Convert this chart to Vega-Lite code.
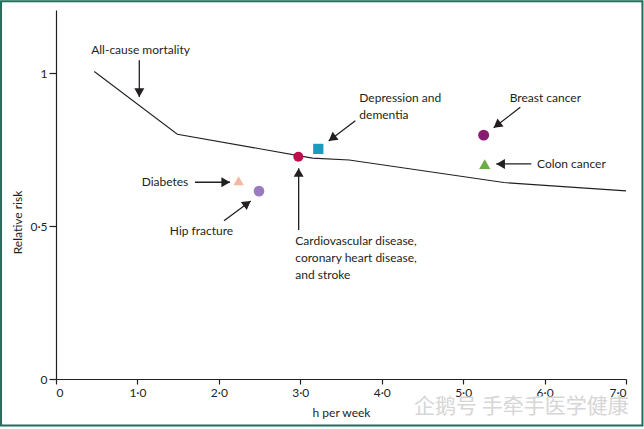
{
  "$schema": "https://vega.github.io/schema/vega-lite/v6.json",
  "width": 570,
  "height": 369,
  "autosize": "none",
  "padding": {"left": 56, "top": 10, "right": 18, "bottom": 50},
  "background": "white",
  "config": {
    "view": {"stroke": null},
    "font": "Lato",
    "axis": {
      "grid": false,
      "domainColor": "#231f20",
      "domainWidth": 1.2,
      "tickColor": "#231f20",
      "tickWidth": 1.2,
      "labelColor": "#231f20",
      "labelFont": "Lato",
      "labelFontSize": 12,
      "titleFont": "Lato",
      "titleFontSize": 12,
      "titleFontWeight": "normal",
      "titleColor": "#231f20"
    },
    "text": {"font": "Lato", "fontSize": 12, "color": "#231f20"}
  },
  "datasets": {
    "curve": [
      {"h": 0.47, "rr": 1.005},
      {"h": 1.49, "rr": 0.8},
      {"h": 3.15, "rr": 0.722},
      {"h": 3.6, "rr": 0.716},
      {"h": 5.5, "rr": 0.642},
      {"h": 7.0, "rr": 0.615}
    ],
    "arrows": [
      {"label": "All-cause mortality", "x": 1.023, "y": 1.042, "x2": 1.023, "y2": 0.922},
      {"label": "Diabetes", "x": 1.707, "y": 0.643, "x2": 2.137, "y2": 0.643},
      {"label": "Hip fracture", "x": 2.063, "y": 0.517, "x2": 2.391, "y2": 0.582},
      {"label": "Cardiovascular", "x": 2.98, "y": 0.487, "x2": 2.98, "y2": 0.689},
      {"label": "Depression", "x": 3.676, "y": 0.844, "x2": 3.349, "y2": 0.778},
      {"label": "Breast cancer", "x": 5.702, "y": 0.888, "x2": 5.375, "y2": 0.821},
      {"label": "Colon cancer", "x": 5.837, "y": 0.703, "x2": 5.407, "y2": 0.703}
    ],
    "markers": [
      {"outcome": "Cardiovascular disease, coronary heart disease, and stroke", "h": 2.976, "rr": 0.7265},
      {"outcome": "Depression and dementia", "h": 3.221, "rr": 0.752},
      {"outcome": "Diabetes", "h": 2.243, "rr": 0.648},
      {"outcome": "Hip fracture", "h": 2.493, "rr": 0.614},
      {"outcome": "Breast cancer", "h": 5.252, "rr": 0.797},
      {"outcome": "Colon cancer", "h": 5.265, "rr": 0.702}
    ],
    "labelsLeft": [
      {"text": "Cardiovascular disease,\ncoronary heart disease,\nand stroke", "x": 2.939, "y": 0.452},
      {"text": "Depression and\ndementia", "x": 3.725, "y": 0.919},
      {"text": "Breast cancer", "x": 5.572, "y": 0.919},
      {"text": "Colon cancer", "x": 5.907, "y": 0.703}
    ],
    "labelsCenter": [
      {"text": "All-cause mortality", "x": 1.038, "y": 1.075},
      {"text": "Hip fracture", "x": 1.787, "y": 0.483}
    ],
    "labelsRight": [
      {"text": "Diabetes", "x": 1.625, "y": 0.644}
    ]
  },
  "layer": [
    {
      "data": {"name": "curve"},
      "mark": {"type": "line", "color": "#231f20", "strokeWidth": 1.1},
      "encoding": {
        "x": {
          "field": "h", "type": "quantitative",
          "scale": {"domain": [0, 7], "nice": false, "zero": false},
          "axis": {
            "values": [0, 1, 2, 3, 4, 5, 6, 7],
            "labelExpr": "datum.value === 0 ? '0' : replace(format(datum.value, '.1f'), '.', '·')",
            "tickSize": 5,
            "labelPadding": 3,
            "title": "h per week",
            "titleY": 33,
            "titleBaseline": "middle"
          }
        },
        "y": {
          "field": "rr", "type": "quantitative",
          "scale": {"domain": [0, 1.206], "nice": false, "zero": false},
          "axis": {
            "values": [0, 0.5, 1],
            "labelExpr": "replace(format(datum.value, '~g'), '.', '·')",
            "tickSize": 7,
            "labelPadding": 2,
            "title": "Relative risk",
            "titleX": -39,
            "titleY": 212,
            "titleAngle": -90,
            "titleAlign": "center",
            "titleBaseline": "middle"
          }
        }
      }
    },
    {
      "data": {"values": [{}]},
      "mark": {"type": "rect", "fill": null, "stroke": "#1e6e5a", "strokeWidth": 2},
      "encoding": {
        "x": {"datum": -0.675, "type": "quantitative", "scale": {"domain": [0, 7], "nice": false, "zero": false}},
        "x2": {"datum": 7.202},
        "y": {"datum": 1.235, "type": "quantitative", "scale": {"domain": [0, 1.206], "nice": false, "zero": false}},
        "y2": {"datum": -0.152}
      }
    },
    {
      "data": {"name": "arrows"},
      "mark": {"type": "rule", "color": "#231f20", "strokeWidth": 1.3},
      "encoding": {
        "x": {"field": "x", "type": "quantitative", "scale": {"domain": [0, 7], "nice": false, "zero": false}},
        "y": {"field": "y", "type": "quantitative", "scale": {"domain": [0, 1.206], "nice": false, "zero": false}},
        "x2": {"field": "x2"},
        "y2": {"field": "y2"}
      }
    },
    {
      "data": {"name": "arrows"},
      "transform": [
        {"calculate": "(datum.x2 - datum.x) * 570 / 7", "as": "dxp"},
        {"calculate": "(datum.y2 - datum.y) * 369 / 1.206", "as": "dyp"},
        {"calculate": "sqrt(datum.dxp * datum.dxp + datum.dyp * datum.dyp)", "as": "len"},
        {"calculate": "atan2(datum.dxp, datum.dyp) * 180 / PI", "as": "ang"},
        {"calculate": "datum.x2 - datum.dxp / datum.len * 4.3 / (570 / 7)", "as": "hx"},
        {"calculate": "datum.y2 - datum.dyp / datum.len * 4.3 / (369 / 1.206)", "as": "hy"}
      ],
      "mark": {"type": "point", "shape": "triangle-up", "filled": true, "size": 100, "color": "#231f20", "opacity": 1, "strokeWidth": 0},
      "encoding": {
        "x": {"field": "hx", "type": "quantitative", "scale": {"domain": [0, 7], "nice": false, "zero": false}},
        "y": {"field": "hy", "type": "quantitative", "scale": {"domain": [0, 1.206], "nice": false, "zero": false}},
        "angle": {"field": "ang", "type": "quantitative", "scale": null}
      }
    },
    {
      "data": {"name": "markers"},
      "mark": {"type": "point", "filled": true, "opacity": 1, "strokeWidth": 0},
      "encoding": {
        "x": {"field": "h", "type": "quantitative", "scale": {"domain": [0, 7], "nice": false, "zero": false}},
        "y": {"field": "rr", "type": "quantitative", "scale": {"domain": [0, 1.206], "nice": false, "zero": false}},
        "color": {
          "field": "outcome", "type": "nominal", "legend": null,
          "scale": {
            "domain": ["Cardiovascular disease, coronary heart disease, and stroke", "Depression and dementia", "Diabetes", "Hip fracture", "Breast cancer", "Colon cancer"],
            "range": ["#bd0f4b", "#1b9bc0", "#f5b7a2", "#9a7bbf", "#8a1b70", "#6bad45"]
          }
        },
        "shape": {
          "field": "outcome", "type": "nominal", "legend": null,
          "scale": {
            "domain": ["Cardiovascular disease, coronary heart disease, and stroke", "Depression and dementia", "Diabetes", "Hip fracture", "Breast cancer", "Colon cancer"],
            "range": ["circle", "square", "triangle-up", "circle", "circle", "triangle-up"]
          }
        },
        "size": {
          "field": "outcome", "type": "nominal", "legend": null,
          "scale": {
            "domain": ["Cardiovascular disease, coronary heart disease, and stroke", "Depression and dementia", "Diabetes", "Hip fracture", "Breast cancer", "Colon cancer"],
            "range": [100, 125, 120, 105, 105, 120]
          }
        }
      }
    },
    {
      "data": {"name": "labelsLeft"},
      "mark": {"type": "text", "align": "left", "baseline": "middle", "lineBreak": "\n", "lineHeight": 17},
      "encoding": {
        "x": {"field": "x", "type": "quantitative", "scale": {"domain": [0, 7], "nice": false, "zero": false}},
        "y": {"field": "y", "type": "quantitative", "scale": {"domain": [0, 1.206], "nice": false, "zero": false}},
        "text": {"field": "text", "type": "nominal"}
      }
    },
    {
      "data": {"name": "labelsCenter"},
      "mark": {"type": "text", "align": "center", "baseline": "middle"},
      "encoding": {
        "x": {"field": "x", "type": "quantitative", "scale": {"domain": [0, 7], "nice": false, "zero": false}},
        "y": {"field": "y", "type": "quantitative", "scale": {"domain": [0, 1.206], "nice": false, "zero": false}},
        "text": {"field": "text", "type": "nominal"}
      }
    },
    {
      "data": {"name": "labelsRight"},
      "mark": {"type": "text", "align": "right", "baseline": "middle"},
      "encoding": {
        "x": {"field": "x", "type": "quantitative", "scale": {"domain": [0, 7], "nice": false, "zero": false}},
        "y": {"field": "y", "type": "quantitative", "scale": {"domain": [0, 1.206], "nice": false, "zero": false}},
        "text": {"field": "text", "type": "nominal"}
      }
    },
    {
      "data": {"values": [{}]},
      "mark": {"type": "text", "align": "left", "baseline": "middle", "font": "Noto Sans CJK SC", "fontSize": 21, "color": "#d6d6d6"},
      "encoding": {
        "x": {"datum": 4.396, "type": "quantitative", "scale": {"domain": [0, 7], "nice": false, "zero": false}},
        "y": {"datum": -0.0905, "type": "quantitative", "scale": {"domain": [0, 1.206], "nice": false, "zero": false}},
        "text": {"value": "企鹅号 手牵手医学健康"}
      }
    }
  ]
}
